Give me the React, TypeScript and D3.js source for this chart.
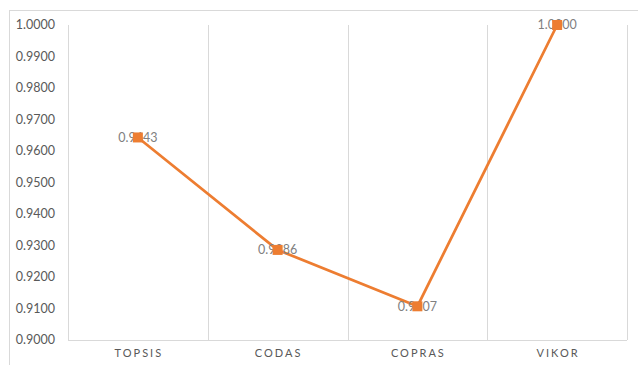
import React, { useEffect, useRef } from "react";
import * as d3 from "d3";

const methods = ["TOPSIS", "CODAS", "COPRAS", "VIKOR"];
const scores = [0.9643, 0.9286, 0.9107, 1.0];
const yTicks = [0.9, 0.91, 0.92, 0.93, 0.94, 0.95, 0.96, 0.97, 0.98, 0.99, 1.0];

const App = () => {
  const ref = useRef<SVGSVGElement>(null);

  useEffect(() => {
    const width = 638;
    const height = 365;
    const m = { left: 68, right: 11, top: 25, bottom: 25 };

    const svg = d3.select(ref.current);
    svg.selectAll("*").remove();
    svg.style("font-family", "Lato, 'Open Sans', sans-serif");

    // outer chart border (only top/left visible)
    svg.append("rect")
      .attr("x", 9.5).attr("y", 10.5)
      .attr("width", 700).attr("height", 400)
      .attr("fill", "#fff")
      .attr("stroke", "#d9d9d9");

    const x = d3.scaleBand()
      .domain(methods)
      .range([m.left, width - m.right])
      .padding(0);

    const y = d3.scaleLinear()
      .domain([0.9, 1.0])
      .range([height - m.bottom, m.top]);

    // vertical gridlines at category boundaries
    const bounds = methods.map(d => x(d)!).concat([x.range()[1]]);
    svg.append("g")
      .selectAll("line")
      .data(bounds)
      .join("line")
      .attr("x1", d => Math.round(d) + 0.5)
      .attr("x2", d => Math.round(d) + 0.5)
      .attr("y1", y(1.0))
      .attr("y2", y(0.9))
      .attr("stroke", "#d9d9d9")
      .attr("stroke-width", 1);

    // baseline
    svg.append("line")
      .attr("x1", x.range()[0]).attr("x2", x.range()[1])
      .attr("y1", Math.round(y(0.9)) + 0.5).attr("y2", Math.round(y(0.9)) + 0.5)
      .attr("stroke", "#d9d9d9");

    // y labels
    svg.append("g")
      .selectAll("text")
      .data(yTicks)
      .join("text")
      .attr("x", 55)
      .attr("y", d => y(d))
      .attr("dy", "0.35em")
      .attr("text-anchor", "end")
      .attr("font-size", 12.5)
      .attr("fill", "#595959")
      .text(d => d3.format(".4f")(d));

    // x labels
    svg.append("g")
      .selectAll("text")
      .data(methods)
      .join("text")
      .attr("x", d => x(d)! + x.bandwidth() / 2 + 1)
      .attr("y", 353)
      .attr("dy", "0.35em")
      .attr("text-anchor", "middle")
      .attr("font-size", 11)
      .attr("letter-spacing", 2)
      .attr("fill", "#595959")
      .text(d => d);

    const pts = methods.map((d, i) => ({ name: d, v: scores[i] }));
    const cx = (d: { name: string }) => x(d.name)! + x.bandwidth() / 2;

    svg.append("path")
      .datum(pts)
      .attr("fill", "none")
      .attr("stroke", "#ED7D31")
      .attr("stroke-width", 2.75)
      .attr("stroke-linejoin", "round")
      .attr("d", d3.line<{ name: string; v: number }>().x(cx).y(d => y(d.v)));

    // data labels (drawn under markers)
    svg.append("g")
      .selectAll("text")
      .data(pts)
      .join("text")
      .attr("x", cx)
      .attr("y", d => y(d.v))
      .attr("dy", "0.35em")
      .attr("text-anchor", "middle")
      .attr("font-size", 12.5)
      .attr("fill", "#808080")
      .text(d => d3.format(".4f")(d.v));

    svg.append("g")
      .selectAll("rect")
      .data(pts)
      .join("rect")
      .attr("x", d => cx(d) - 5)
      .attr("y", d => y(d.v) - 5)
      .attr("width", 10)
      .attr("height", 10)
      .attr("fill", "#ED7D31");
  }, []);

  return (
    <svg
      ref={ref}
      width={638}
      height={365}
      style={{ position: "absolute", left: 0, top: 0, background: "#fff" }}
    />
  );
};

export default App;
